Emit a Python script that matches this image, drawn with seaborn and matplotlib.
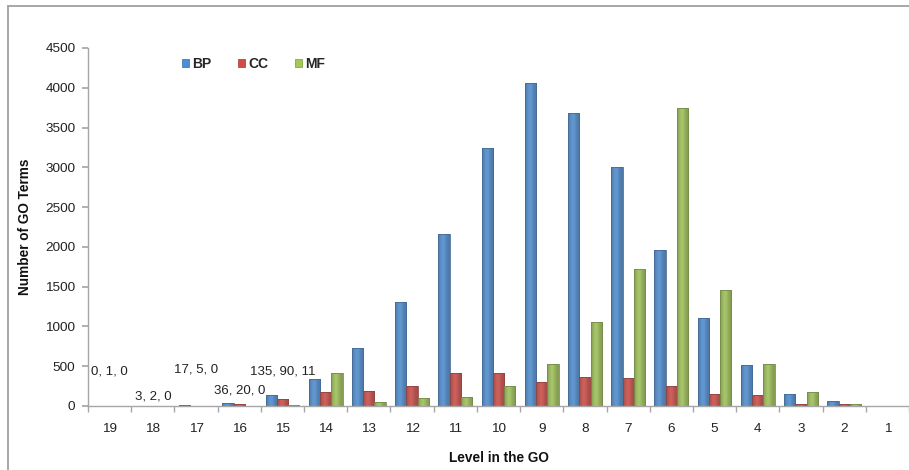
import numpy as np
import pandas as pd
import matplotlib
matplotlib.use("Agg")
import matplotlib.pyplot as plt
from matplotlib.lines import Line2D
from matplotlib.patches import Rectangle
from matplotlib.colors import to_rgb
import seaborn as sns

# GO term counts per level of the ontology (deepest level first)
levels = ["19", "18", "17", "16", "15", "14", "13", "12", "11", "10",
          "9", "8", "7", "6", "5", "4", "3", "2", "1"]
bp = [0, 3, 17, 36, 135, 335, 732, 1310, 2165, 3240,
      4060, 3680, 3010, 1960, 1100, 511, 147, 58, 1]
cc = [1, 2, 5, 20, 90, 180, 192, 255, 418, 418,
      305, 360, 348, 247, 147, 134, 30, 20, 1]
mf = [0, 0, 0, 0, 11, 418, 54, 104, 117, 255,
      531, 1052, 1725, 3740, 1461, 531, 180, 25, 1]
series = ["BP", "CC", "MF"]
colors = {"BP": "#4A8ED8", "CC": "#D44A44", "MF": "#A2C855"}

df = pd.DataFrame({
    "Level": levels * 3,
    "Ontology": [s for s in series for _ in levels],
    "Count": bp + cc + mf,
})

sns.set_theme(style="white")
plt.rcParams["font.family"] = ["Liberation Sans", "DejaVu Sans"]

fig = plt.figure(figsize=(9.09, 4.70), dpi=100)
ax = fig.add_axes([88 / 909, 1 - 406 / 470, 1 - 88 / 909, 358 / 470])

sns.barplot(data=df, x="Level", y="Count", hue="Ontology", order=levels,
            hue_order=series, palette=colors, width=0.78, gap=0,
            edgecolor="none", linewidth=0, legend=False, ax=ax)

ax.set_xlim(-0.5, len(levels) - 0.5)
ax.set_ylim(0, 4500)

# cylindrical shading across every bar
t = np.linspace(0, 1, 48)
profile = 0.84 + 0.22 * np.exp(-((t - 0.42) / 0.30) ** 2)
for patch in list(ax.patches):
    if not isinstance(patch, Rectangle):
        continue
    h = patch.get_height()
    if h <= 0:
        continue
    x0, y0 = patch.get_xy()
    w = patch.get_width()
    base = np.array(to_rgb(patch.get_facecolor()))
    grad = np.clip(base[None, None, :] * profile[None, :, None], 0, 1)
    im = ax.imshow(grad, extent=[x0, x0 + w, y0, y0 + h], aspect="auto",
                   interpolation="bilinear", zorder=patch.get_zorder() + 0.1)
    im.set_clip_path(patch)
    edge = Rectangle((x0, y0), w, h, fill=False,
                     edgecolor=tuple(base * 0.75), linewidth=0.6,
                     zorder=patch.get_zorder() + 0.2)
    ax.add_patch(edge)

ax.set_xlim(-0.5, len(levels) - 0.5)
ax.set_ylim(0, 4500)
ax.set_aspect("auto")

# value labels for the shallow-count deep levels
label_y = [429, 117, 462, 200, 432]
for i, ly in enumerate(label_y):
    ax.text(i, ly, f"{bp[i]}, {cc[i]}, {mf[i]}", ha="center", va="center",
            fontsize=9.5, color="#222222")

# axes styling
for side in ("top", "right"):
    ax.spines[side].set_visible(False)
for side in ("left", "bottom"):
    ax.spines[side].set_color("#a6a6a6")
    ax.spines[side].set_linewidth(1.0)

ax.set_yticks(np.arange(0, 4501, 500))
ax.tick_params(axis="y", which="major", direction="out", length=4,
               color="#a6a6a6", labelsize=9.7, labelcolor="#222222", pad=5,
               left=True)
ax.set_xticks(np.arange(-0.5, len(levels), 1.0), minor=True)
ax.tick_params(axis="x", which="minor", direction="out", length=4,
               color="#a6a6a6", bottom=True)
ax.tick_params(axis="x", which="major", length=0, labelsize=9.7,
               labelcolor="#222222", pad=12)

ax.set_xlabel("Level in the GO", fontsize=9.8, fontweight="bold", color="#111111")
ax.set_ylabel("Number of GO Terms", fontsize=9.8, fontweight="bold", color="#111111")
ax.xaxis.set_label_coords(0.5, -0.125)
ax.yaxis.set_label_coords(-0.068, 0.5)
ax.grid(False)

# legend across the top
handles = [Rectangle((0, 0), 1, 1, facecolor=colors[s],
                     edgecolor=tuple(np.array(to_rgb(colors[s])) * 0.75),
                     linewidth=0.5) for s in series]
leg = ax.legend(handles, series, ncol=3, frameon=False,
                loc="upper left", bbox_to_anchor=(0.1145, 0.975),
                borderaxespad=0, borderpad=0,
                handlelength=0.5, handleheight=0.5, handletextpad=0.25,
                columnspacing=1.9, prop={"weight": "bold", "size": 10})

# outer chart frame
frame_kw = dict(transform=fig.transFigure, color="#a0a0a0", linewidth=1.3)
fig.add_artist(Line2D([8 / 909, 8 / 909], [0, 1 - 6 / 470], **frame_kw))
fig.add_artist(Line2D([8 / 909, 1], [1 - 6 / 470, 1 - 6 / 470], **frame_kw))

fig.savefig("out.png", dpi=100, facecolor="white")
